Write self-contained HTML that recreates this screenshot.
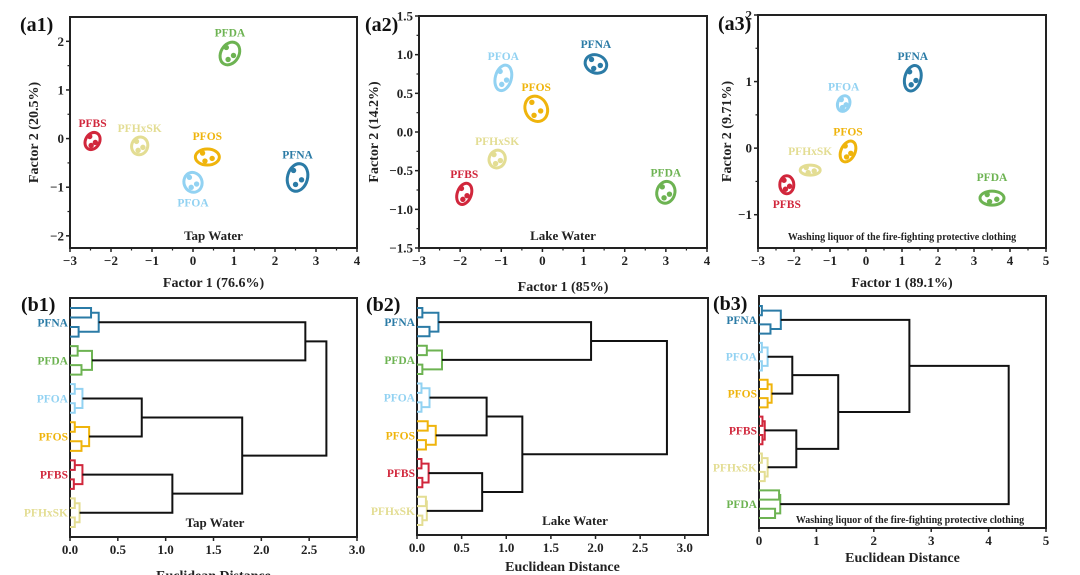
<!DOCTYPE html>
<html><head><meta charset="utf-8"><style>
html,body{margin:0;padding:0;background:#fff;}
svg{display:block;font-family:"Liberation Serif",serif;font-weight:bold;}
</style></head><body>
<svg id="fig" width="1080" height="575" viewBox="0 0 1080 575"></svg>
<script>
const colors={PFNA:'#2b7ba6',PFDA:'#6db352',PFOA:'#92d2f2',PFOS:'#efb40c',PFBS:'#d1273c',PFHxSK:'#e3dd93'};
// ---- scatter data (a1,a2,a3) ----
const a1Names=['PFDA','PFBS','PFHxSK','PFOS','PFOA','PFNA'];
const a1X=[0.9,-2.45,-1.3,0.35,0,2.55];
const a1Y=[1.75,-0.05,-0.15,-0.38,-0.9,-0.8];
const a2Names=['PFNA','PFOA','PFOS','PFHxSK','PFBS','PFDA'];
const a2X=[1.3,-0.95,-0.15,-1.1,-1.9,3.0];
const a2Y=[0.88,0.7,0.3,-0.35,-0.8,-0.78];
const a3Names=['PFNA','PFOA','PFOS','PFHxSK','PFBS','PFDA'];
const a3X=[1.3,-0.62,-0.5,-1.55,-2.2,3.5];
const a3Y=[1.05,0.67,-0.05,-0.33,-0.55,-0.75];
// ---- dendrogram data ----
const groupOrder12=['PFNA','PFDA','PFOA','PFOS','PFBS','PFHxSK'];
const groupOrder3=['PFNA','PFOA','PFOS','PFBS','PFHxSK','PFDA'];
const b1PairA=[0.22,0.08,0.05,0.05,0.05,0.05];
const b1PairB=[0.09,0.12,0.05,0.12,0.04,0.05];
const b1Group=[0.3,0.23,0.13,0.2,0.13,0.1];
const b1Merges=[[0,1,2.46],[2,3,0.75],[4,5,1.07],[7,8,1.8],[6,9,2.68]];
const b2PairA=[0.06,0.11,0.05,0.12,0.05,0.1];
const b2PairB=[0.14,0.06,0.05,0.1,0.06,0.06];
const b2Group=[0.24,0.28,0.14,0.21,0.13,0.11];
const b2Merges=[[0,1,1.95],[2,3,0.78],[4,5,0.73],[7,8,1.18],[6,9,2.8]];
const b3PairA=[0.05,0.05,0.15,0.06,0.05,0.35];
const b3PairB=[0.2,0.05,0.15,0.06,0.1,0.28];
const b3Group=[0.38,0.15,0.22,0.1,0.15,0.37];
const b3Merges=[[1,2,0.58],[3,4,0.65],[6,7,1.38],[0,8,2.62],[9,5,4.35]];

const svg=document.getElementById('fig');
const NS='http://www.w3.org/2000/svg';
function mk(tag,attrs,parent,name,inter){const e=document.createElementNS(NS,tag);for(const k in attrs)e.setAttribute(k,attrs[k]);


(parent||svg).appendChild(e);return e;}
function txt(x,y,s,size,parent,name,opts){opts=opts||{};const t=mk('text',{x:x,y:y,'font-size':size,'text-anchor':opts.anchor||'middle',fill:opts.fill||'#222'},parent,name,false);if(opts.rot)t.setAttribute('transform','rotate(-90 '+x+' '+y+')');t.textContent=s;return t;}

function scatter(cfg,names,xs,ys){
 const g=mk('g',{},svg,cfg.id,false);
 const sx=v=>cfg.x0+(v-cfg.xmin)/(cfg.xmax-cfg.xmin)*(cfg.x1-cfg.x0);
 const sy=v=>cfg.y1-(v-cfg.ymin)/(cfg.ymax-cfg.ymin)*(cfg.y1-cfg.y0);
 mk('rect',{x:cfg.x0,y:cfg.y0,width:cfg.x1-cfg.x0,height:cfg.y1-cfg.y0,fill:'none',stroke:'#222','stroke-width':2},g,'plot-frame',false);
 cfg.xt.forEach((v,i)=>{const X=sx(v);mk('line',{x1:X,x2:X,y1:cfg.y1,y2:cfg.y1+4,stroke:'#222','stroke-width':1.5},g,'x-tick',false);
  if(i<cfg.xt.length-1){const Xm=sx((v+cfg.xt[i+1])/2);mk('line',{x1:Xm,x2:Xm,y1:cfg.y1,y2:cfg.y1+2.5,stroke:'#222','stroke-width':1.2},g,'x-minor-tick',false);}
  txt(X,cfg.y1+17,String(v).replace('-','\u2212'),13,g,'x-tick-label');});
 cfg.yt.forEach((v,i)=>{const Y=sy(v);mk('line',{x1:cfg.x0-4,x2:cfg.x0,y1:Y,y2:Y,stroke:'#222','stroke-width':1.5},g,'y-tick',false);
  if(i<cfg.yt.length-1){const Ym=sy((v+cfg.yt[i+1])/2);mk('line',{x1:cfg.x0-2.5,x2:cfg.x0,y1:Ym,y2:Ym,stroke:'#222','stroke-width':1.2},g,'y-minor-tick',false);}
  txt(cfg.x0-6,Y+4.5,cfg.yfmt(v).replace('-','\u2212'),13,g,'y-tick-label',{anchor:'end'});});
 names.forEach((n,i)=>{const X=sx(xs[i]),Y=sy(ys[i]);const c=colors[n];const s=cfg.sizes[i];
  mk('ellipse',{cx:X,cy:Y,rx:s[0],ry:s[1],fill:'none',stroke:c,'stroke-width':3,transform:'rotate('+s[2]+' '+X+' '+Y+')'},g,'cluster-ellipse-'+n.toLowerCase(),true);
  [[-2,-3],[2,1],[-1,3]].forEach(d=>mk('circle',{cx:X+d[0]*s[0]/5,cy:Y+d[1]*s[1]/6,r:2.7,fill:c},g,'sample-point',false));
  const below=cfg.below.indexOf(n)>=0;
  txt(X,below?Y+s[1]+14:Y-Math.max(s[0],s[1])-5,n,11.5,g,'point-label-'+n.toLowerCase(),{fill:c});});
 txt((cfg.x0+cfg.x1)/2,cfg.y1-8,cfg.inner,cfg.innerSize,g,'sample-title');
 txt((cfg.x0+cfg.x1)/2,cfg.xlabY,cfg.xlabel,14,g,'x-axis-title');
 txt(cfg.ylabX,(cfg.y0+cfg.y1)/2,cfg.ylabel,14,g,'y-axis-title',{rot:true});
 txt(cfg.px,cfg.py,cfg.panel,20,g,'panel-label',{anchor:'start',fill:'#111'});
}
scatter({id:'panel-a1',x0:70,x1:357,y0:17,y1:248,xmin:-3,xmax:4,ymin:-2.25,ymax:2.5,xt:[-3,-2,-1,0,1,2,3,4],yt:[-2,-1,0,1,2],yfmt:v=>String(v),
 sizes:[[9,12,30],[7,9,30],[8,9,20],[12,8,0],[9,10,-20],[10,14,15]],below:['PFOA'],inner:'Tap Water',innerSize:13,xlabel:'Factor 1 (76.6%)',xlabY:287,ylabel:'Factor 2 (20.5%)',ylabX:38,panel:'(a1)',px:20,py:31},a1Names,a1X,a1Y);
scatter({id:'panel-a2',x0:419,x1:707,y0:16,y1:248,xmin:-3,xmax:4,ymin:-1.5,ymax:1.5,xt:[-3,-2,-1,0,1,2,3,4],yt:[-1.5,-1,-0.5,0,0.5,1,1.5],yfmt:v=>v.toFixed(1),
 sizes:[[11,9,20],[8,13,15],[11,13,-25],[8,9,20],[7,11,20],[9,11,15]],below:[],inner:'Lake Water',innerSize:13,xlabel:'Factor 1 (85%)',xlabY:291,ylabel:'Factor 2 (14.2%)',ylabX:378,panel:'(a2)',px:365,py:31},a2Names,a2X,a2Y);
scatter({id:'panel-a3',x0:758,x1:1046,y0:15,y1:248,xmin:-3,xmax:5,ymin:-1.5,ymax:2,xt:[-3,-2,-1,0,1,2,3,4,5],yt:[-1,0,1,2],yfmt:v=>String(v),
 sizes:[[8,13,15],[6,8,20],[7,11,25],[10,5,0],[7,9,0],[12,7,0]],below:['PFBS'],inner:'Washing liquor of the fire-fighting protective clothing',innerSize:10,xlabel:'Factor 1 (89.1%)',xlabY:287,ylabel:'Factor 2 (9.71%)',ylabX:731,panel:'(a3)',px:718,py:30},a3Names,a3X,a3Y);

function dendro(cfg,order,pa,pb,gh,merges){
 const g=mk('g',{},svg,cfg.id,false);
 const sx=v=>cfg.x0+v/cfg.xmax*(cfg.x1-cfg.x0);
 mk('rect',{x:cfg.x0,y:cfg.y0,width:cfg.x1-cfg.x0,height:cfg.y1-cfg.y0,fill:'none',stroke:'#222','stroke-width':2},g,'plot-frame',false);
 cfg.xt.forEach(v=>{const X=sx(v);mk('line',{x1:X,x2:X,y1:cfg.y1,y2:cfg.y1+4,stroke:'#222','stroke-width':1.5},g,'x-tick',false);
  txt(X,cfg.y1+17,cfg.fmt(v),13,g,'x-tick-label');});
 const step=(cfg.y1-cfg.y0-20)/23;const ly=i=>cfg.y0+10+i*step;
 const nodes=[];
 order.forEach((n,k)=>{const c=colors[n];const y=[0,1,2,3].map(j=>ly(4*k+j));
  const p=(a,b,h)=>mk('path',{d:'M'+sx(0)+' '+a+'H'+sx(h)+'V'+b+'H'+sx(0),fill:'none',stroke:c,'stroke-width':2},g,'leaf-branch-'+n.toLowerCase(),false);
  p(y[0],y[1],pa[k]);p(y[2],y[3],pb[k]);
  const m1=(y[0]+y[1])/2,m2=(y[2]+y[3])/2;
  mk('path',{d:'M'+sx(pa[k])+' '+m1+'H'+sx(gh[k])+'V'+m2+'H'+sx(pb[k]),fill:'none',stroke:c,'stroke-width':2},g,'group-branch-'+n.toLowerCase(),false);
  nodes.push({y:(m1+m2)/2,h:gh[k]});
  txt(cfg.x0-2,(m1+m2)/2+4,n,11.5,g,'leaf-label-'+n.toLowerCase(),{anchor:'end',fill:c});});
 merges.forEach(m=>{const a=nodes[m[0]],b=nodes[m[1]];
  mk('path',{d:'M'+sx(a.h)+' '+a.y+'H'+sx(m[2])+'V'+b.y+'H'+sx(b.h),fill:'none',stroke:'#111','stroke-width':2},g,'cluster-link',false);
  nodes.push({y:(a.y+b.y)/2,h:m[2]});});
 txt(cfg.tx,cfg.ty,cfg.inner,cfg.innerSize,g,'sample-title');
 txt((cfg.x0+cfg.x1)/2,cfg.xlabY,'Euclidean Distance',14,g,'x-axis-title');
 txt(cfg.px,cfg.py,cfg.panel,20,g,'panel-label',{anchor:'start',fill:'#111'});
}
dendro({id:'panel-b1',x0:70,x1:357,y0:298,y1:537,xmax:3,xt:[0,0.5,1,1.5,2,2.5,3],fmt:v=>v.toFixed(1),inner:'Tap Water',innerSize:13,tx:215,ty:527,xlabY:580,panel:'(b1)',px:21,py:311},groupOrder12,b1PairA,b1PairB,b1Group,b1Merges);
dendro({id:'panel-b2',x0:417,x1:708,y0:298,y1:535,xmax:3.26,xt:[0,0.5,1,1.5,2,2.5,3],fmt:v=>v.toFixed(1),inner:'Lake Water',innerSize:13,tx:575,ty:525,xlabY:571,panel:'(b2)',px:366,py:311},groupOrder12,b2PairA,b2PairB,b2Group,b2Merges);
dendro({id:'panel-b3',x0:759,x1:1046,y0:296,y1:528,xmax:5,xt:[0,1,2,3,4,5],fmt:v=>String(v),inner:'Washing liquor of the fire-fighting protective clothing',innerSize:10,tx:910,ty:523,xlabY:562,panel:'(b3)',px:713,py:310},groupOrder3,b3PairA,b3PairB,b3Group,b3Merges);
</script>
</body></html>
